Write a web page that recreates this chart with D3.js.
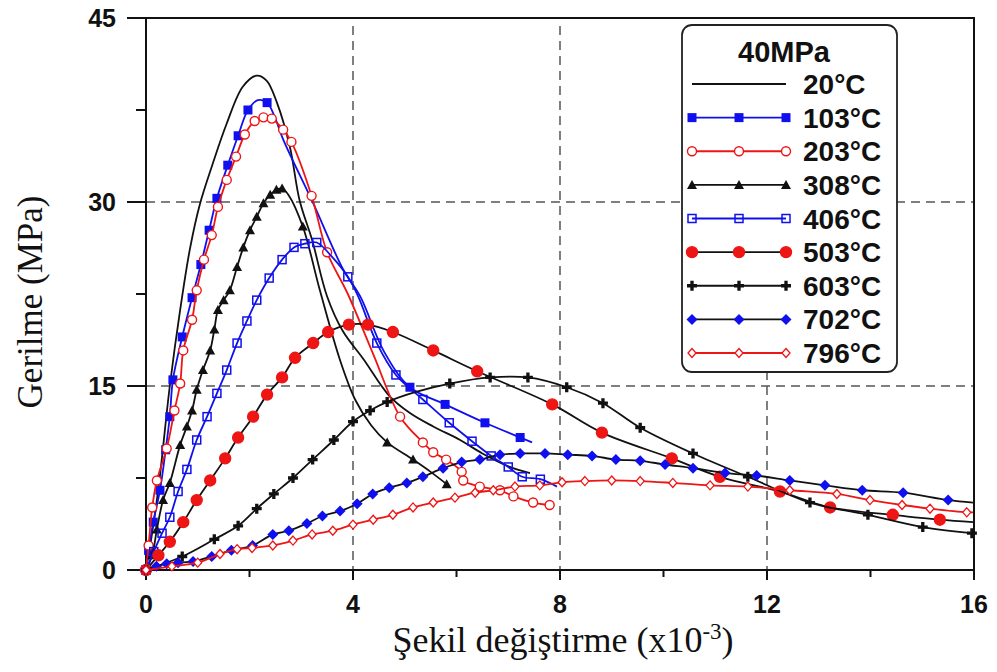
<!DOCTYPE html>
<html>
<head>
<meta charset="utf-8">
<script src="https://cdn.jsdelivr.net/npm/d3@7"></script>
<style>
  html, body { margin: 0; padding: 0; background: #fff; }
  #container { width: 997px; height: 672px; }
</style>
</head>
<body>
<div id="container"></div>
<script>
// strain (x10^-3), stress (MPa); a third value of 0 = point on the line without a marker
const s20 = [[0,0],[0.1,2.5],[0.25,7],[0.46,15],[0.66,21.2],[0.85,26.2],[1.04,29.8],[1.28,33.0],[1.56,36.4],[1.87,39.4],[2.14,40.3],[2.33,39.9],[2.53,38.1],[2.78,34.5],[2.97,30.1],[3.21,26.9],[3.5,22.3],[3.8,19.5],[4.2,17.2],[4.7,14.2],[5.1,12.8],[5.55,11.7],[6.07,10.6],[6.5,9.5],[7.03,8.4],[7.42,7.9]];
const s103 = [[0,0],[0.05,1.6],[0.14,3.9],[0.27,6.5],[0.38,9.8],[0.46,12.5],[0.52,15.5],[0.7,19],[0.89,22.2],[1.06,24.9],[1.22,27.7],[1.37,30.3],[1.58,33.0],[1.78,35.4],[1.97,37.5],[2.16,38.3,0],[2.34,38.1],[2.5,36.8,0],[2.65,35.1,0],[3.23,29.9,0],[3.81,24.5,0],[4.14,22.3,0],[4.6,17.8,0],[5.1,14.9],[5.78,13.5],[6.55,12.0],[7.23,10.8],[7.46,10.4,0]];
const s203 = [[0,0],[0.05,2],[0.12,5.1],[0.21,7.3],[0.4,9.9],[0.55,13],[0.66,15.2],[0.72,17.9],[0.89,20.4],[0.98,22.8],[1.12,25.3],[1.27,27.3],[1.39,29.6],[1.56,31.8],[1.74,33.7],[1.91,35.5],[2.1,36.6],[2.27,36.9],[2.43,36.8],[2.65,35.9],[2.81,34.9],[3.2,30.5],[3.5,25.9],[3.9,22.5,0],[4.4,17.5,0],[4.91,12.5],[5.35,10.4],[5.55,9.6],[5.8,9.0],[6.1,8.0],[6.13,7.3],[6.45,6.8],[6.84,6.5],[7.1,6.0],[7.48,5.5],[7.8,5.3]];
const s308 = [[0,0],[0.12,1.2],[0.21,3.3],[0.33,5.7],[0.46,7.1],[0.66,10.2],[0.79,11.7],[0.89,13.0],[0.98,14.7],[1.1,16.3],[1.24,17.9],[1.32,19.6],[1.39,21.2],[1.5,22.0],[1.62,22.8],[1.76,24.7],[1.88,26.3],[2.01,27.7],[2.14,28.8],[2.27,29.9],[2.4,30.6],[2.52,31.0],[2.63,31.1],[2.75,30.6,0],[3.03,28.0],[3.36,22.8,0],[3.75,17.1,0],[4.04,13.9,0],[4.35,11.8,0],[4.66,10.4],[5.16,9.0],[5.5,8.0,0],[5.81,7.0]];
const s406 = [[0,0],[0.15,1.5],[0.31,3.0],[0.46,4.3],[0.62,6.4],[0.79,8.2],[0.98,10.6],[1.18,12.5],[1.37,14.4],[1.56,16.3],[1.76,18.5],[1.95,20.3],[2.14,22.0],[2.38,23.8],[2.63,25.3],[2.86,26.3],[3.07,26.6],[3.3,26.7],[3.6,25.5,0],[3.9,23.9],[4.1,22.3,0],[4.46,18.5],[4.83,15.9],[5.35,13.9],[5.86,12.0],[6.3,10.5],[6.67,9.3],[7.0,8.4],[7.27,7.6],[7.62,7.4],[7.94,6.8,0]];
const s503 = [[0,0],[0.24,1.2],[0.46,2.3],[0.72,3.9],[0.98,5.7],[1.24,7.3],[1.53,9.1],[1.78,10.8],[2.07,12.5],[2.34,14.3],[2.63,15.7],[2.88,17.3],[3.23,18.5],[3.52,19.4],[3.92,20.0],[4.29,20.0],[4.77,19.4],[5.55,17.9],[6.4,16.2],[7.85,13.5],[8.81,11.2],[10.16,9.1],[11.09,7.6],[12.25,6.4],[13.22,5.1],[14.43,4.5],[15.34,4.1],[15.98,3.9,0]];
const s603 = [[0,0],[0.7,1.1],[1.32,2.5],[1.78,3.6],[2.14,5.0],[2.47,6.2],[2.84,7.5],[3.22,9.0],[3.63,10.6],[4.0,12.1],[4.33,13.0],[4.66,13.7],[5.2,14.5,0],[5.87,15.2],[6.65,15.7],[7.38,15.7],[8.13,14.9],[8.83,13.6],[9.55,11.6],[10.57,9.5],[11.63,7.6],[12.83,5.5],[13.95,4.5],[15.01,3.5],[15.96,3.0]];
const s702 = [[0,0],[0.2,0.3],[0.4,0.5],[0.62,0.6],[0.91,0.7],[1.27,1.1],[1.65,1.6],[2.06,2.0],[2.45,2.9],[2.76,3.2],[3.11,3.8],[3.41,4.4],[3.75,4.8],[4.08,5.4],[4.38,6.2],[4.7,6.7],[5.04,7.1],[5.35,7.6],[5.74,8.3],[6.1,8.8],[6.45,9.0],[6.84,9.4],[7.23,9.5],[7.71,9.5],[8.15,9.4],[8.62,9.3],[9.08,9.0],[9.55,8.9],[10.03,8.6],[10.57,8.3],[11.19,7.9],[11.8,7.7],[12.44,7.3],[13.12,6.9],[13.84,6.5],[14.63,6.3],[15.5,5.7],[15.98,5.5,0]];
const s796 = [[0,0],[0.5,0.3],[1.0,0.6],[1.43,1.3],[1.76,1.7],[2.05,1.8],[2.45,2.0],[2.84,2.4],[3.21,2.9],[3.61,3.2],[4.0,3.7],[4.39,4.1],[4.77,4.5],[5.16,5.1],[5.55,5.5],[5.97,5.9],[6.36,6.3],[6.71,6.5],[7.13,6.8],[7.61,6.9],[8.04,7.15],[8.48,7.25],[9.0,7.3],[9.55,7.25],[10.18,7.1],[10.9,6.9],[11.63,6.8],[12.44,6.5],[13.35,6.2],[13.99,5.7],[14.61,5.3],[15.15,5.0],[15.86,4.7],[15.98,4.7,0]];

const temps = ["20°C", "103°C", "203°C", "308°C", "406°C", "503°C", "603°C", "702°C", "796°C"];
const xTicks = [0, 4, 8, 12, 16];
const yTicks = [0, 15, 30, 45];
const legendTitle = "40MPa";

const BLUE = "#1010ee", RED = "#ee1515", BLACK = "#111";

// one style per temperature, in legend order
const styles = [
    { data: s20,  line: BLACK, mark: null },
    { data: s103, line: BLUE,  mark: "square",  fill: BLUE,  stroke: BLUE },
    { data: s203, line: RED,   mark: "circle",  fill: "#fff", stroke: RED, r: 4.5 },
    { data: s308, line: BLACK, mark: "triangle", fill: BLACK, stroke: BLACK },
    { data: s406, line: BLUE,  mark: "osquare", fill: "#fff", stroke: BLUE },
    { data: s503, line: BLACK, mark: "circle",  fill: RED,   stroke: RED, r: 5.5 },
    { data: s603, line: BLACK, mark: "plus",    fill: BLACK, stroke: BLACK },
    { data: s702, line: BLACK, mark: "diamond", fill: BLUE,  stroke: BLUE },
    { data: s796, line: RED,   mark: "odiamond", fill: "#fff", stroke: RED }
];

const width = 997, height = 672;
const x = d3.scaleLinear().domain([0, 16]).range([146, 974]);
const y = d3.scaleLinear().domain([0, 45]).range([570, 18]);

const svg = d3.create("svg")
    .attr("width", width)
    .attr("height", height)
    .attr("viewBox", [0, 0, width, height])
    .style("background", "#fff");

/* ---------- grid ---------- */
const grid = svg.append("g")
    .attr("stroke", "#555")
    .attr("stroke-width", 1.5)
    .attr("stroke-dasharray", "9,6");
[15, 30].forEach(v => grid.append("line")
    .attr("x1", x(0)).attr("x2", x(16)).attr("y1", y(v)).attr("y2", y(v)));
[4, 8, 12].forEach(v => grid.append("line")
    .attr("x1", x(v)).attr("x2", x(v)).attr("y1", y(45) + 8).attr("y2", y(0)));

/* ---------- frame and ticks ---------- */
svg.append("rect")
    .attr("x", x(0)).attr("y", y(45))
    .attr("width", x(16) - x(0)).attr("height", y(0) - y(45))
    .attr("fill", "none").attr("stroke", "#111").attr("stroke-width", 2);

const ticks = svg.append("g").attr("stroke", "#111").attr("stroke-width", 2);
d3.range(0, 45.1, 7.5).forEach(v => ticks.append("line")
    .attr("x1", x(0) - (v % 15 === 0 ? 19 : 10)).attr("x2", x(0))
    .attr("y1", y(v)).attr("y2", y(v)));
d3.range(0, 16.1, 2).forEach(v => ticks.append("line")
    .attr("x1", x(v)).attr("x2", x(v))
    .attr("y1", y(0)).attr("y2", y(0) + (v % 4 === 0 ? 10 : 7)));

svg.append("g")
    .attr("font-family", "'Liberation Sans', Arial, sans-serif")
    .attr("font-weight", "bold").attr("font-size", 25).attr("fill", "#111")
    .selectAll("text").data(yTicks).join("text")
    .attr("x", 116).attr("y", d => y(d) + 9)
    .attr("text-anchor", "end")
    .text(d => d);

svg.append("g")
    .attr("font-family", "'Liberation Sans', Arial, sans-serif")
    .attr("font-weight", "bold").attr("font-size", 25).attr("fill", "#111")
    .selectAll("text").data(xTicks).join("text")
    .attr("x", d => x(d)).attr("y", 613)
    .attr("text-anchor", "middle")
    .text(d => d);

/* ---------- axis titles ---------- */
const xt = svg.append("text")
    .attr("x", 563).attr("y", 652)
    .attr("text-anchor", "middle")
    .attr("font-family", "'Liberation Serif', 'Times New Roman', serif")
    .attr("font-size", 36).attr("fill", "#111");
xt.append("tspan").text("Şekil değiştirme (x10");
xt.append("tspan").attr("font-size", 23).attr("dy", -13).text("-3");
xt.append("tspan").attr("dy", 13).text(")");

svg.append("text")
    .attr("transform", "translate(42,302) rotate(-90)")
    .attr("text-anchor", "middle")
    .attr("font-family", "'Liberation Serif', 'Times New Roman', serif")
    .attr("font-size", 35).attr("fill", "#111")
    .text("Gerilme (MPa)");

/* ---------- markers ---------- */
function drawMarker(g, st, cx, cy) {
    if (!st.mark) return;
    if (st.mark === "circle") {
        g.append("circle").attr("cx", cx).attr("cy", cy).attr("r", st.r)
            .attr("fill", st.fill).attr("stroke", st.stroke).attr("stroke-width", 1.4);
    } else if (st.mark === "square") {
        g.append("rect").attr("x", cx - 4.5).attr("y", cy - 4.5).attr("width", 9).attr("height", 9)
            .attr("fill", st.fill);
    } else if (st.mark === "osquare") {
        g.append("rect").attr("x", cx - 4).attr("y", cy - 4).attr("width", 8).attr("height", 8)
            .attr("fill", "none").attr("stroke", st.stroke).attr("stroke-width", 1.5);
    } else if (st.mark === "triangle") {
        g.append("path").attr("transform", `translate(${cx},${cy})`)
            .attr("d", "M0,-5L5,4L-5,4Z").attr("fill", st.fill);
    } else if (st.mark === "plus") {
        g.append("path").attr("transform", `translate(${cx},${cy})`)
            .attr("d", d3.symbol(d3.symbolCross, 55)()).attr("fill", st.fill);
    } else if (st.mark === "diamond") {
        g.append("path").attr("transform", `translate(${cx},${cy})`)
            .attr("d", "M0,-5.5L5.5,0L0,5.5L-5.5,0Z").attr("fill", st.fill);
    } else if (st.mark === "odiamond") {
        g.append("path").attr("transform", `translate(${cx},${cy})`)
            .attr("d", "M0,-4.5L4,0L0,4.5L-4,0Z")
            .attr("fill", "#fff").attr("stroke", st.stroke).attr("stroke-width", 1.3);
    }
}

/* ---------- curves ---------- */
const line = d3.line()
    .x(d => x(d[0]))
    .y(d => y(d[1]))
    .curve(d3.curveCatmullRom.alpha(0.5));

const curves = svg.append("g");
styles.forEach(st => {
    const g = curves.append("g");
    g.append("path")
        .datum(st.data)
        .attr("fill", "none")
        .attr("stroke", st.line)
        .attr("stroke-width", 1.8)
        .attr("d", line);
    st.data.filter(d => d[2] !== 0).forEach(d => drawMarker(g, st, x(d[0]), y(d[1])));
});

/* ---------- legend ---------- */
const lg = svg.append("g");
lg.append("rect")
    .attr("x", 682).attr("y", 25).attr("width", 215).attr("height", 347)
    .attr("rx", 10).attr("ry", 10)
    .attr("fill", "#fff").attr("stroke", "#222").attr("stroke-width", 1.8);
lg.append("text")
    .attr("x", 784).attr("y", 62)
    .attr("text-anchor", "middle")
    .attr("font-family", "'Liberation Sans', Arial, sans-serif")
    .attr("font-weight", "bold").attr("font-size", 29).attr("fill", "#111")
    .text(legendTitle);

const rowY = d3.scaleLinear().domain([0, 8]).range([84, 353]);
styles.forEach((st, i) => {
    const cy = rowY(i);
    const row = lg.append("g");
    row.append("line")
        .attr("x1", 692).attr("x2", 786).attr("y1", cy).attr("y2", cy)
        .attr("stroke", st.line).attr("stroke-width", 1.8);
    [692, 739, 786].forEach(cx => drawMarker(row, st, cx, cy));
    row.append("text")
        .attr("x", 803).attr("y", cy + 10)
        .attr("font-family", "'Liberation Sans', Arial, sans-serif")
        .attr("font-weight", "bold").attr("font-size", 28).attr("fill", "#111")
        .text(temps[i]);
});

document.getElementById("container").append(svg.node());
</script>
</body>
</html>
